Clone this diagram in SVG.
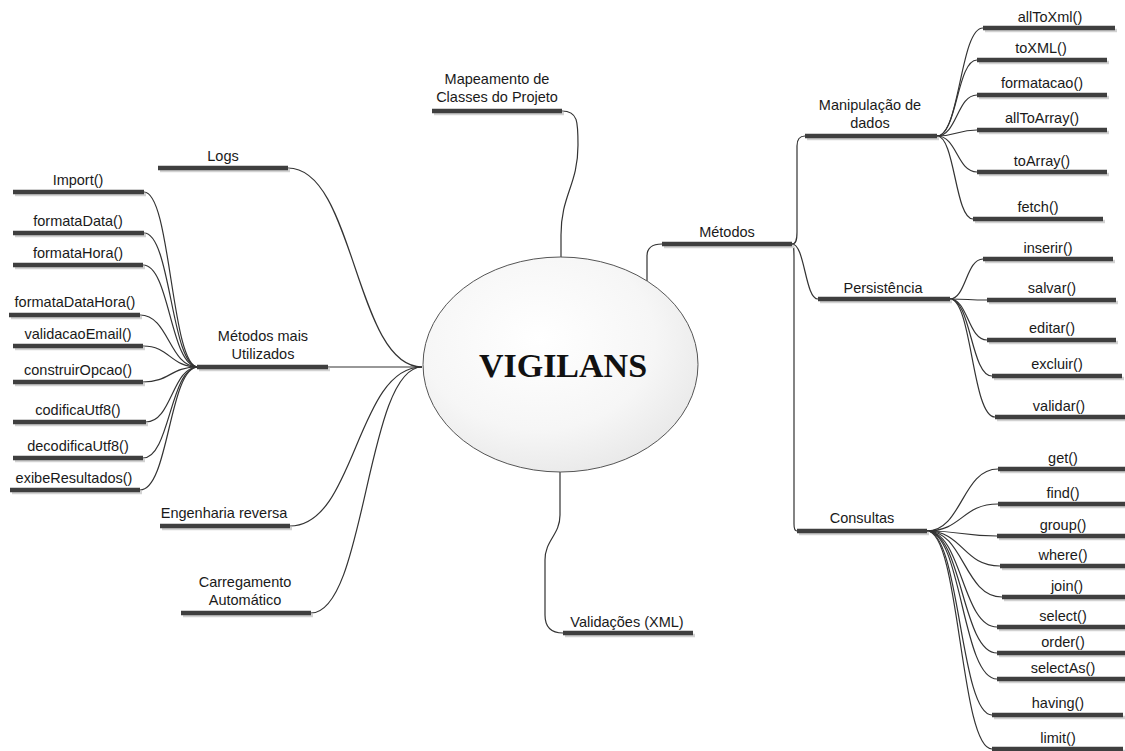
<svg xmlns="http://www.w3.org/2000/svg" width="1125" height="751" viewBox="0 0 1125 751">
  <defs>
    <radialGradient id="coreFill" cx="42%" cy="38%" r="65%">
      <stop offset="0" stop-color="#ffffff"/>
      <stop offset="0.65" stop-color="#f6f6f6"/>
      <stop offset="1" stop-color="#e9e9e9"/>
    </radialGradient>
  </defs>
  <style>
    .bar { stroke: #3f3f3f; stroke-width: 4.5; }
    .sh { stroke: #d2d2d2; stroke-width: 3.5; }
    .lbl { font-family: "Liberation Sans", Arial, sans-serif; font-size: 14.5px; fill: #1a1a1a; text-anchor: middle; }
    .link { fill: none; stroke: #333333; stroke-width: 1.2; }
    .core { font-family: "Liberation Serif", "Times New Roman", serif; font-size: 34px; font-weight: bold; fill: #111111; text-anchor: middle; }
  </style>
  <rect width="1125" height="751" fill="#ffffff"/>

  <!-- connectors -->
  <g id="connectors">
    <!-- central topic to main branches -->
    <path class="link" d="M422,367 C355,367 355,168 288,168"/>
    <path class="link" d="M328,367 L422,367"/>
    <path class="link" d="M422,367 C356,367 356,526 290,526"/>
    <path class="link" d="M422,367 C366,367 366,613 311,613"/>
    <path class="link" d="M562,111 C578,111 578,122 578,145 C578,185 561,195 561,235 L561,258"/>
    <path class="link" d="M560,472 L560,515 C560,535 545,540 545,560 L545,615 C545,628 552,633 563,633"/>
    <path class="link" d="M647,281 L647,256 C647,248 652,244 662,244"/>
    <!-- Métodos mais Utilizados -->
    <path class="link" d="M198,367 C171,367 171,192 144,192"/>
    <path class="link" d="M198,367 C171,367 171,233 144,233"/>
    <path class="link" d="M198,367 C170,367 170,265 143,265"/>
    <path class="link" d="M198,367 C169,367 169,315 140,315"/>
    <path class="link" d="M198,367 C170,367 170,346 143,346"/>
    <path class="link" d="M198,367 C170,367 170,382 143,382"/>
    <path class="link" d="M198,367 C172,367 172,422 146,422"/>
    <path class="link" d="M198,367 C170,367 170,458 143,458"/>
    <path class="link" d="M198,367 C169,367 169,490 140,490"/>
    <!-- Métodos -->
    <path class="link" d="M792,244 C796,244 797,240 797,232 L797,146 C797,139 800,136 805,136"/>
    <path class="link" d="M792,244 C805,244 805,299 818,299"/>
    <path class="link" d="M792,244 C794,244 794,250 794,260 L794,524 C794,529 795,531 797,531"/>
    <!-- Manipulação de dados -->
    <path class="link" d="M937,136 C960,136 960,28 983,28"/>
    <path class="link" d="M937,136 C957,136 957,60 977,60"/>
    <path class="link" d="M937,136 C957,136 957,95 977,95"/>
    <path class="link" d="M937,136 C957,136 957,130 977,130"/>
    <path class="link" d="M937,136 C957,136 957,172 977,172"/>
    <path class="link" d="M937,136 C955,136 955,219 973,219"/>
    <!-- Persistência -->
    <path class="link" d="M950,299 C966,299 966,259 983,259"/>
    <path class="link" d="M950,299 C968,299 968,300 987,300"/>
    <path class="link" d="M950,299 C968,299 968,340 987,340"/>
    <path class="link" d="M950,299 C971,299 971,376 992,376"/>
    <path class="link" d="M950,299 C972,299 972,417 995,417"/>
    <!-- Consultas -->
    <path class="link" d="M927,531 C962,531 962,469 998,469"/>
    <path class="link" d="M927,531 C962,531 962,504 998,504"/>
    <path class="link" d="M927,531 C962,531 962,536 997,536"/>
    <path class="link" d="M927,531 C963,531 963,566 1000,566"/>
    <path class="link" d="M927,531 C964,531 964,597 1002,597"/>
    <path class="link" d="M927,531 C962,531 962,627 997,627"/>
    <path class="link" d="M927,531 C962,531 962,653 997,653"/>
    <path class="link" d="M927,531 C962,531 962,679 997,679"/>
    <path class="link" d="M927,531 C960,531 960,715 992,715"/>
    <path class="link" d="M927,531 C960,531 960,749 992,749"/>
  </g>

  <!-- central topic -->
  <g id="vigilans">
    <ellipse cx="560.5" cy="364.5" rx="137.5" ry="107.5" fill="url(#coreFill)" stroke="#555555" stroke-width="1"/>
    <text class="core" x="563" y="377">VIGILANS</text>
  </g>

  <!-- left branches -->
  <g id="logs">
    <line class="sh" x1="160" y1="170.5" x2="290" y2="170.5"/>
    <line class="bar" x1="158" y1="168" x2="288" y2="168"/>
    <text class="lbl" x="223" y="161">Logs</text>
  </g>
  <g id="metodos-mais-utilizados">
    <line class="sh" x1="199" y1="369.5" x2="330" y2="369.5"/>
    <line class="bar" x1="197" y1="367" x2="328" y2="367"/>
    <text class="lbl" x="263" y="341">Métodos mais</text>
    <text class="lbl" x="263" y="359">Utilizados</text>
  </g>
  <g id="import">
    <line class="sh" x1="15" y1="194.5" x2="146" y2="194.5"/>
    <line class="bar" x1="13" y1="192" x2="144" y2="192"/>
    <text class="lbl" x="78" y="185">Import()</text>
  </g>
  <g id="formataData">
    <line class="sh" x1="15" y1="235.5" x2="146" y2="235.5"/>
    <line class="bar" x1="13" y1="233" x2="144" y2="233"/>
    <text class="lbl" x="78" y="226">formataData()</text>
  </g>
  <g id="formataHora">
    <line class="sh" x1="15" y1="267.5" x2="145" y2="267.5"/>
    <line class="bar" x1="13" y1="265" x2="143" y2="265"/>
    <text class="lbl" x="78" y="258">formataHora()</text>
  </g>
  <g id="formataDataHora">
    <line class="sh" x1="11" y1="317.5" x2="142" y2="317.5"/>
    <line class="bar" x1="9" y1="315" x2="140" y2="315"/>
    <text class="lbl" x="75" y="307">formataDataHora()</text>
  </g>
  <g id="validacaoEmail">
    <line class="sh" x1="15" y1="348.5" x2="145" y2="348.5"/>
    <line class="bar" x1="13" y1="346" x2="143" y2="346"/>
    <text class="lbl" x="78" y="339">validacaoEmail()</text>
  </g>
  <g id="construirOpcao">
    <line class="sh" x1="15" y1="384.5" x2="145" y2="384.5"/>
    <line class="bar" x1="13" y1="382" x2="143" y2="382"/>
    <text class="lbl" x="78" y="375">construirOpcao()</text>
  </g>
  <g id="codificaUtf8">
    <line class="sh" x1="15" y1="424.5" x2="148" y2="424.5"/>
    <line class="bar" x1="13" y1="422" x2="146" y2="422"/>
    <text class="lbl" x="78" y="415">codificaUtf8()</text>
  </g>
  <g id="decodificaUtf8">
    <line class="sh" x1="15" y1="460.5" x2="145" y2="460.5"/>
    <line class="bar" x1="13" y1="458" x2="143" y2="458"/>
    <text class="lbl" x="78" y="451">decodificaUtf8()</text>
  </g>
  <g id="exibeResultados">
    <line class="sh" x1="12" y1="492.5" x2="142" y2="492.5"/>
    <line class="bar" x1="10" y1="490" x2="140" y2="490"/>
    <text class="lbl" x="74" y="483">exibeResultados()</text>
  </g>
  <g id="engenharia-reversa">
    <line class="sh" x1="162" y1="528.5" x2="292" y2="528.5"/>
    <line class="bar" x1="160" y1="526" x2="290" y2="526"/>
    <text class="lbl" x="224" y="518">Engenharia reversa</text>
  </g>
  <g id="carregamento-automatico">
    <line class="sh" x1="183" y1="615.5" x2="313" y2="615.5"/>
    <line class="bar" x1="181" y1="613" x2="311" y2="613"/>
    <text class="lbl" x="245" y="587">Carregamento</text>
    <text class="lbl" x="245" y="605">Automático</text>
  </g>

  <!-- top / bottom branches -->
  <g id="mapeamento-classes">
    <line class="sh" x1="434" y1="113.5" x2="564" y2="113.5"/>
    <line class="bar" x1="432" y1="111" x2="562" y2="111"/>
    <text class="lbl" x="497" y="84">Mapeamento de</text>
    <text class="lbl" x="497" y="102">Classes do Projeto</text>
  </g>
  <g id="validacoes-xml">
    <line class="sh" x1="565" y1="635.5" x2="695" y2="635.5"/>
    <line class="bar" x1="563" y1="633" x2="693" y2="633"/>
    <text class="lbl" x="627" y="627">Validações (XML)</text>
  </g>

  <!-- right branches -->
  <g id="metodos">
    <line class="sh" x1="664" y1="246.5" x2="794" y2="246.5"/>
    <line class="bar" x1="662" y1="244" x2="792" y2="244"/>
    <text class="lbl" x="727" y="237">Métodos</text>
  </g>
  <g id="manipulacao-dados">
    <line class="sh" x1="807" y1="138.5" x2="939" y2="138.5"/>
    <line class="bar" x1="805" y1="136" x2="937" y2="136"/>
    <text class="lbl" x="870" y="110">Manipulação de</text>
    <text class="lbl" x="870" y="128">dados</text>
  </g>
  <g id="persistencia">
    <line class="sh" x1="820" y1="301.5" x2="952" y2="301.5"/>
    <line class="bar" x1="818" y1="299" x2="950" y2="299"/>
    <text class="lbl" x="883" y="293">Persistência</text>
  </g>
  <g id="consultas">
    <line class="sh" x1="799" y1="533.5" x2="929" y2="533.5"/>
    <line class="bar" x1="797" y1="531" x2="927" y2="531"/>
    <text class="lbl" x="862" y="523">Consultas</text>
  </g>

  <!-- Manipulação de dados children -->
  <g id="allToXml">
    <line class="sh" x1="985" y1="30.5" x2="1117" y2="30.5"/>
    <line class="bar" x1="983" y1="28" x2="1115" y2="28"/>
    <text class="lbl" x="1050" y="22">allToXml()</text>
  </g>
  <g id="toXML">
    <line class="sh" x1="979" y1="62.5" x2="1109" y2="62.5"/>
    <line class="bar" x1="977" y1="60" x2="1107" y2="60"/>
    <text class="lbl" x="1041" y="53">toXML()</text>
  </g>
  <g id="formatacao">
    <line class="sh" x1="979" y1="97.5" x2="1109" y2="97.5"/>
    <line class="bar" x1="977" y1="95" x2="1107" y2="95"/>
    <text class="lbl" x="1042" y="88">formatacao()</text>
  </g>
  <g id="allToArray">
    <line class="sh" x1="979" y1="132.5" x2="1109" y2="132.5"/>
    <line class="bar" x1="977" y1="130" x2="1107" y2="130"/>
    <text class="lbl" x="1042" y="123">allToArray()</text>
  </g>
  <g id="toArray">
    <line class="sh" x1="979" y1="174.5" x2="1109" y2="174.5"/>
    <line class="bar" x1="977" y1="172" x2="1107" y2="172"/>
    <text class="lbl" x="1042" y="166">toArray()</text>
  </g>
  <g id="fetch">
    <line class="sh" x1="975" y1="221.5" x2="1105" y2="221.5"/>
    <line class="bar" x1="973" y1="219" x2="1103" y2="219"/>
    <text class="lbl" x="1038" y="212">fetch()</text>
  </g>

  <!-- Persistência children -->
  <g id="inserir">
    <line class="sh" x1="985" y1="261.5" x2="1115" y2="261.5"/>
    <line class="bar" x1="983" y1="259" x2="1113" y2="259"/>
    <text class="lbl" x="1048" y="253">inserir()</text>
  </g>
  <g id="salvar">
    <line class="sh" x1="989" y1="302.5" x2="1118" y2="302.5"/>
    <line class="bar" x1="987" y1="300" x2="1116" y2="300"/>
    <text class="lbl" x="1052" y="293">salvar()</text>
  </g>
  <g id="editar">
    <line class="sh" x1="989" y1="342.5" x2="1118" y2="342.5"/>
    <line class="bar" x1="987" y1="340" x2="1116" y2="340"/>
    <text class="lbl" x="1052" y="333">editar()</text>
  </g>
  <g id="excluir">
    <line class="sh" x1="994" y1="378.5" x2="1124" y2="378.5"/>
    <line class="bar" x1="992" y1="376" x2="1122" y2="376"/>
    <text class="lbl" x="1057" y="369">excluir()</text>
  </g>
  <g id="validar">
    <line class="sh" x1="997" y1="419.5" x2="1127" y2="419.5"/>
    <line class="bar" x1="995" y1="417" x2="1125" y2="417"/>
    <text class="lbl" x="1059" y="411">validar()</text>
  </g>

  <!-- Consultas children -->
  <g id="get">
    <line class="sh" x1="1000" y1="471.5" x2="1130" y2="471.5"/>
    <line class="bar" x1="998" y1="469" x2="1128" y2="469"/>
    <text class="lbl" x="1063" y="463">get()</text>
  </g>
  <g id="find">
    <line class="sh" x1="1000" y1="506.5" x2="1130" y2="506.5"/>
    <line class="bar" x1="998" y1="504" x2="1128" y2="504"/>
    <text class="lbl" x="1063" y="498">find()</text>
  </g>
  <g id="group">
    <line class="sh" x1="999" y1="538.5" x2="1130" y2="538.5"/>
    <line class="bar" x1="997" y1="536" x2="1128" y2="536"/>
    <text class="lbl" x="1063" y="530">group()</text>
  </g>
  <g id="where">
    <line class="sh" x1="1002" y1="568.5" x2="1130" y2="568.5"/>
    <line class="bar" x1="1000" y1="566" x2="1128" y2="566"/>
    <text class="lbl" x="1063" y="560">where()</text>
  </g>
  <g id="join">
    <line class="sh" x1="1004" y1="599.5" x2="1130" y2="599.5"/>
    <line class="bar" x1="1002" y1="597" x2="1128" y2="597"/>
    <text class="lbl" x="1067" y="591">join()</text>
  </g>
  <g id="select">
    <line class="sh" x1="999" y1="629.5" x2="1130" y2="629.5"/>
    <line class="bar" x1="997" y1="627" x2="1128" y2="627"/>
    <text class="lbl" x="1063" y="621">select()</text>
  </g>
  <g id="order">
    <line class="sh" x1="999" y1="655.5" x2="1130" y2="655.5"/>
    <line class="bar" x1="997" y1="653" x2="1128" y2="653"/>
    <text class="lbl" x="1063" y="647">order()</text>
  </g>
  <g id="selectAs">
    <line class="sh" x1="999" y1="681.5" x2="1130" y2="681.5"/>
    <line class="bar" x1="997" y1="679" x2="1128" y2="679"/>
    <text class="lbl" x="1063" y="673">selectAs()</text>
  </g>
  <g id="having">
    <line class="sh" x1="994" y1="717.5" x2="1125" y2="717.5"/>
    <line class="bar" x1="992" y1="715" x2="1123" y2="715"/>
    <text class="lbl" x="1058" y="708">having()</text>
  </g>
  <g id="limit">
    <line class="sh" x1="994" y1="751.5" x2="1125" y2="751.5"/>
    <line class="bar" x1="992" y1="749" x2="1123" y2="749"/>
    <text class="lbl" x="1058" y="743">limit()</text>
  </g>
</svg>
